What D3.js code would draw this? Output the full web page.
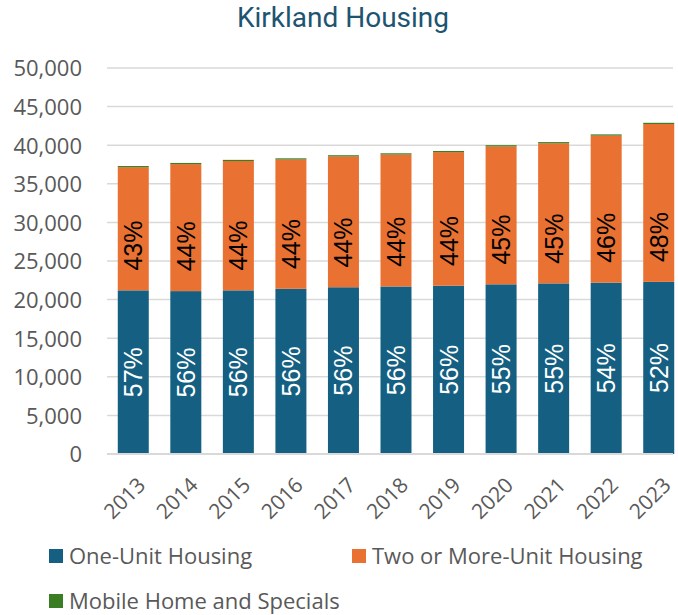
<!DOCTYPE html>
<html>
<head>
<meta charset="utf-8">
<script src="https://cdn.jsdelivr.net/npm/d3@7"></script>
<style>
    body { margin: 0; background: #fff; }
    #chart { width: 678px; height: 615px; }
</style>
</head>
<body>
<div id="chart"></div>
<script>
// values
const years = ['2013', '2014', '2015', '2016', '2017', '2018', '2019', '2020', '2021', '2022', '2023'];
const oneUnit = [21200, 21100, 21200, 21400, 21600, 21700, 21800, 21980, 22100, 22200, 22300];
const multiUnit = [15950, 16450, 16750, 16750, 16950, 17100, 17300, 17870, 18150, 19050, 20450];
const mobile = [150, 150, 150, 150, 150, 150, 150, 150, 150, 150, 150];
const yTicks = [0, 5000, 10000, 15000, 20000, 25000, 30000, 35000, 40000, 45000, 50000];

const seriesNames = ['One-Unit Housing', 'Two or More-Unit Housing', 'Mobile Home and Specials'];
const seriesColors = ['#156082', '#e97132', '#3b7d23'];

function createChart() {
    const width = 678;
    const height = 615;
    const left = 107, right = 685, top = 68, bottom = 454;

    const svg = d3.create('svg')
        .attr('width', width)
        .attr('height', height);

    const rows = years.map((y, i) => ({
        year: y,
        one: oneUnit[i],
        multi: multiUnit[i],
        mobile: mobile[i]
    }));

    const xScale = d3.scaleBand()
        .domain(years)
        .range([left, right])
        .paddingInner(0.41)
        .paddingOuter(0.205);

    const yScale = d3.scaleLinear()
        .domain([0, 50000])
        .range([bottom, top]);

    svg.append('text')
        .attr('x', 343)
        .attr('y', 27)
        .attr('text-anchor', 'middle')
        .attr('font-family', 'Roboto, sans-serif')
        .attr('font-size', 28)
        .attr('fill', '#1d5470')
        .text('Kirkland Housing');

    // gridlines
    svg.append('g')
        .selectAll('line')
        .data(yTicks)
        .enter().append('line')
        .attr('x1', left)
        .attr('x2', 673)
        .attr('y1', d => yScale(d))
        .attr('y2', d => yScale(d))
        .attr('stroke', '#d9d9d9')
        .attr('stroke-width', 1.5);

    const yAxis = svg.append('g')
        .attr('transform', `translate(${left - 22},0)`)
        .call(d3.axisLeft(yScale).tickValues(yTicks).tickSize(0).tickFormat(d3.format(',')));
    yAxis.select('.domain').remove();
    yAxis.selectAll('text')
        .attr('font-family', '"Open Sans", sans-serif')
        .attr('font-size', 22)
        .attr('fill', '#595959')
        .attr('dy', '0.36em');

    const stack = d3.stack().keys(['one', 'multi', 'mobile'])(rows);

    const layers = svg.append('g')
        .selectAll('g')
        .data(stack)
        .enter().append('g')
        .attr('fill', (d, i) => seriesColors[i]);

    layers.selectAll('rect')
        .data(d => d)
        .enter().append('rect')
        .attr('x', d => xScale(d.data.year))
        .attr('width', xScale.bandwidth())
        .attr('y', d => yScale(d[1]))
        .attr('height', d => Math.max(1.2, yScale(d[0]) - yScale(d[1])));

    // axis baseline
    svg.append('line')
        .attr('x1', left)
        .attr('x2', 673)
        .attr('y1', bottom)
        .attr('y2', bottom)
        .attr('stroke', '#d9d9d9')
        .attr('stroke-width', 2);

    // percent labels
    const pct = d3.format('.0%');
    const labels = svg.append('g')
        .attr('font-family', '"Liberation Sans", Arial, sans-serif')
        .attr('font-size', 25)
        .attr('text-anchor', 'middle');

    rows.forEach(r => {
        const total = r.one + r.multi + r.mobile;
        const cx = xScale(r.year) + xScale.bandwidth() / 2;
        const y1 = yScale(r.one / 2);
        labels.append('text')
            .attr('transform', `translate(${cx + 9},${y1}) rotate(-90)`)
            .attr('fill', '#ffffff')
            .text(pct(r.one / total));
        const y2 = yScale(r.one + 5800);
        labels.append('text')
            .attr('transform', `translate(${cx + 9},${y2}) rotate(-90)`)
            .attr('fill', '#000000')
            .text(pct(r.multi / total));
    });

    // x labels
    svg.append('g')
        .selectAll('text')
        .data(years)
        .enter().append('text')
        .attr('transform', d => `translate(${xScale(d) + xScale.bandwidth() / 2 + 3},${bottom + 22}) rotate(-45)`)
        .attr('text-anchor', 'end')
        .attr('dy', '0.7em')
        .attr('font-family', '"Open Sans", sans-serif')
        .attr('font-size', 21)
        .attr('fill', '#595959')
        .text(d => d);

    // legend
    const legendPos = [[49, 556], [352, 556], [49, 601]];
    const legend = svg.append('g')
        .selectAll('g')
        .data(seriesNames)
        .enter().append('g')
        .attr('transform', (d, i) => `translate(${legendPos[i][0]},${legendPos[i][1]})`);

    legend.append('rect')
        .attr('x', 0)
        .attr('y', -7)
        .attr('width', 14)
        .attr('height', 14)
        .attr('fill', (d, i) => seriesColors[i]);

    legend.append('text')
        .attr('x', 20)
        .attr('y', 0)
        .attr('dy', '0.35em')
        .attr('font-family', '"Open Sans", sans-serif')
        .attr('font-size', 22)
        .attr('fill', '#595959')
        .text(d => d);

    d3.select('#chart').node().append(svg.node());
}

createChart();
</script>
</body>
</html>
